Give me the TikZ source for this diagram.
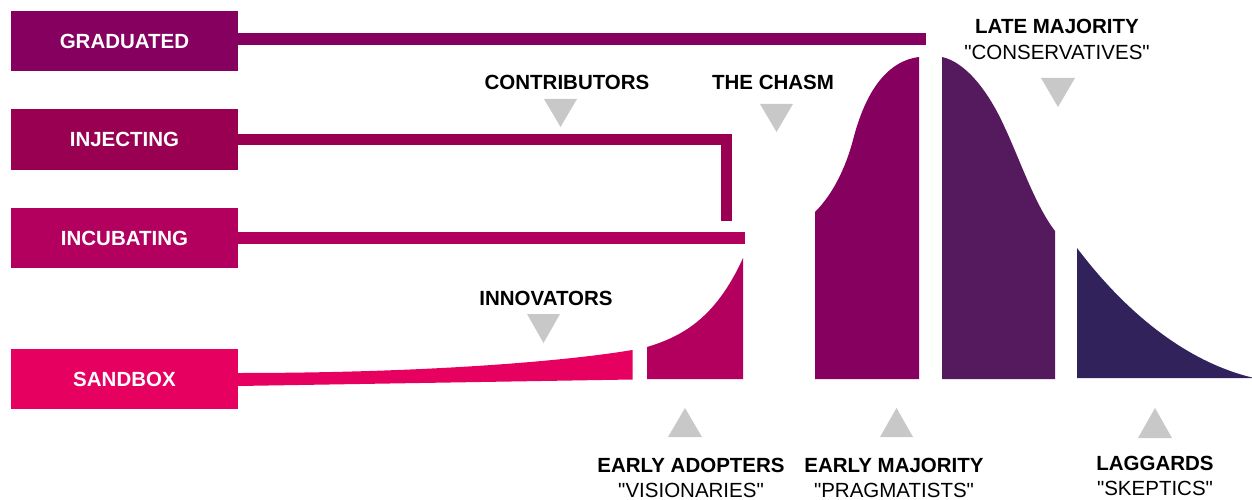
\documentclass[tikz,border=0pt]{standalone}
\usepackage{fontspec}
\setmainfont{Liberation Sans}[Ligatures=TeXOff]
\definecolor{cGrad}{HTML}{85005F}
\definecolor{cInj}{HTML}{990051}
\definecolor{cIncu}{HTML}{B3005F}
\definecolor{cSand}{HTML}{E6005F}
\definecolor{cLate}{HTML}{55195E}
\definecolor{cLag}{HTML}{31225C}
\definecolor{cTri}{HTML}{C8C8C8}
\begin{document}
\begin{tikzpicture}[x=1pt,y=-1pt,
  stagebox/.style={minimum width=227pt, minimum height=60pt, inner sep=0pt,
    text=white, font=\fontsize{20.5}{24}\selectfont\bfseries},
  conn/.style={line width=11.5pt, line join=miter},
  lbl/.style={anchor=base, inner sep=0pt, font=\fontsize{20.5}{24}\selectfont\bfseries},
  sublbl/.style={anchor=base, inner sep=0pt, font=\fontsize{20.5}{24}\selectfont},
  marker/.style={fill=cTri}]
\useasboundingbox (0,0) rectangle (1252,500);

% stage boxes
\node[stagebox, fill=cGrad] (grad) at (124.5,41) {GRADUATED};
\node[stagebox, fill=cInj]  (inj)  at (124.5,139.5) {INJECTING};
\node[stagebox, fill=cIncu] (incu) at (124.5,238) {INCUBATING};
\node[stagebox, fill=cSand] (sand) at (124.5,379) {SANDBOX};

% connectors from the stages
\coordinate (gradEnd) at (926,39);
\coordinate (injEnd)  at (726.5,221);
\coordinate (incuEnd) at (745,238);
\draw[conn, draw=cGrad] (grad.east |- gradEnd) -- (gradEnd);
\draw[conn, draw=cInj]  (inj.east) -| (injEnd);
\draw[conn, draw=cIncu] (incu.east) -- (incuEnd);

% innovators: tapering band leaving the sandbox
\fill[cSand] (238,373) .. controls (420,373) and (560,362) .. (632.5,350)
  -- (632.5,379.5) -- (238,386) -- cycle;

% early adopters
\fill[cIncu] (647,379) -- (647,347) .. controls (680,337) and (715,320) .. (743,258)
  -- (743,379) -- cycle;

% early majority
\fill[cGrad] (815,379) -- (815,212) .. controls (832,195) and (845,170) .. (853,140)
  .. controls (862,105) and (880,62) .. (919,57) -- (919,379) -- cycle;

% late majority
\fill[cLate] (942,379) -- (942,57) .. controls (965,62) and (988,90) .. (1005,128)
  .. controls (1020,160) and (1035,205) .. (1055,231) -- (1055,379) -- cycle;

% laggards
\fill[cLag] (1077,378) -- (1077,248) .. controls (1120,305) and (1180,360) .. (1252,377.5)
  -- (1252,378) -- cycle;

% pointers
\fill[marker] (544,99) -- (577,99) -- (560.5,127) -- cycle;
\fill[marker] (760,104) -- (793,104) -- (776.5,132) -- cycle;
\fill[marker] (1041,78) -- (1075,78) -- (1058,107) -- cycle;
\fill[marker] (527,314) -- (560,314) -- (543.5,343) -- cycle;
\fill[marker] (668,437) -- (702,437) -- (685,408) -- cycle;
\fill[marker] (880,437) -- (913,437) -- (896.5,408) -- cycle;
\fill[marker] (1138,438) -- (1172,438) -- (1155,408) -- cycle;

% labels
\node[lbl] (contrib) at (567,89.4) {CONTRIBUTORS};
\node[lbl] (chasm) at (773,89.4) {THE CHASM};
\node[lbl] (innov) at (546,305.4) {INNOVATORS};
\node[lbl] (late) at (1057,33.4) {LATE MAJORITY};
\node[sublbl] (lateSub) at (1057,59.4) {"CONSERVATIVES"};
\node[lbl] (early) at (691,472.4) {EARLY ADOPTERS};
\node[sublbl] (earlySub) at (691,497.4) {"VISIONARIES"};
\node[lbl] (emaj) at (894,472.4) {EARLY MAJORITY};
\node[sublbl] (emajSub) at (894,497.4) {"PRAGMATISTS"};
\node[lbl] (lag) at (1155,470.4) {LAGGARDS};
\node[sublbl] (lagSub) at (1155,495.4) {"SKEPTICS"};
\end{tikzpicture}
\end{document}
